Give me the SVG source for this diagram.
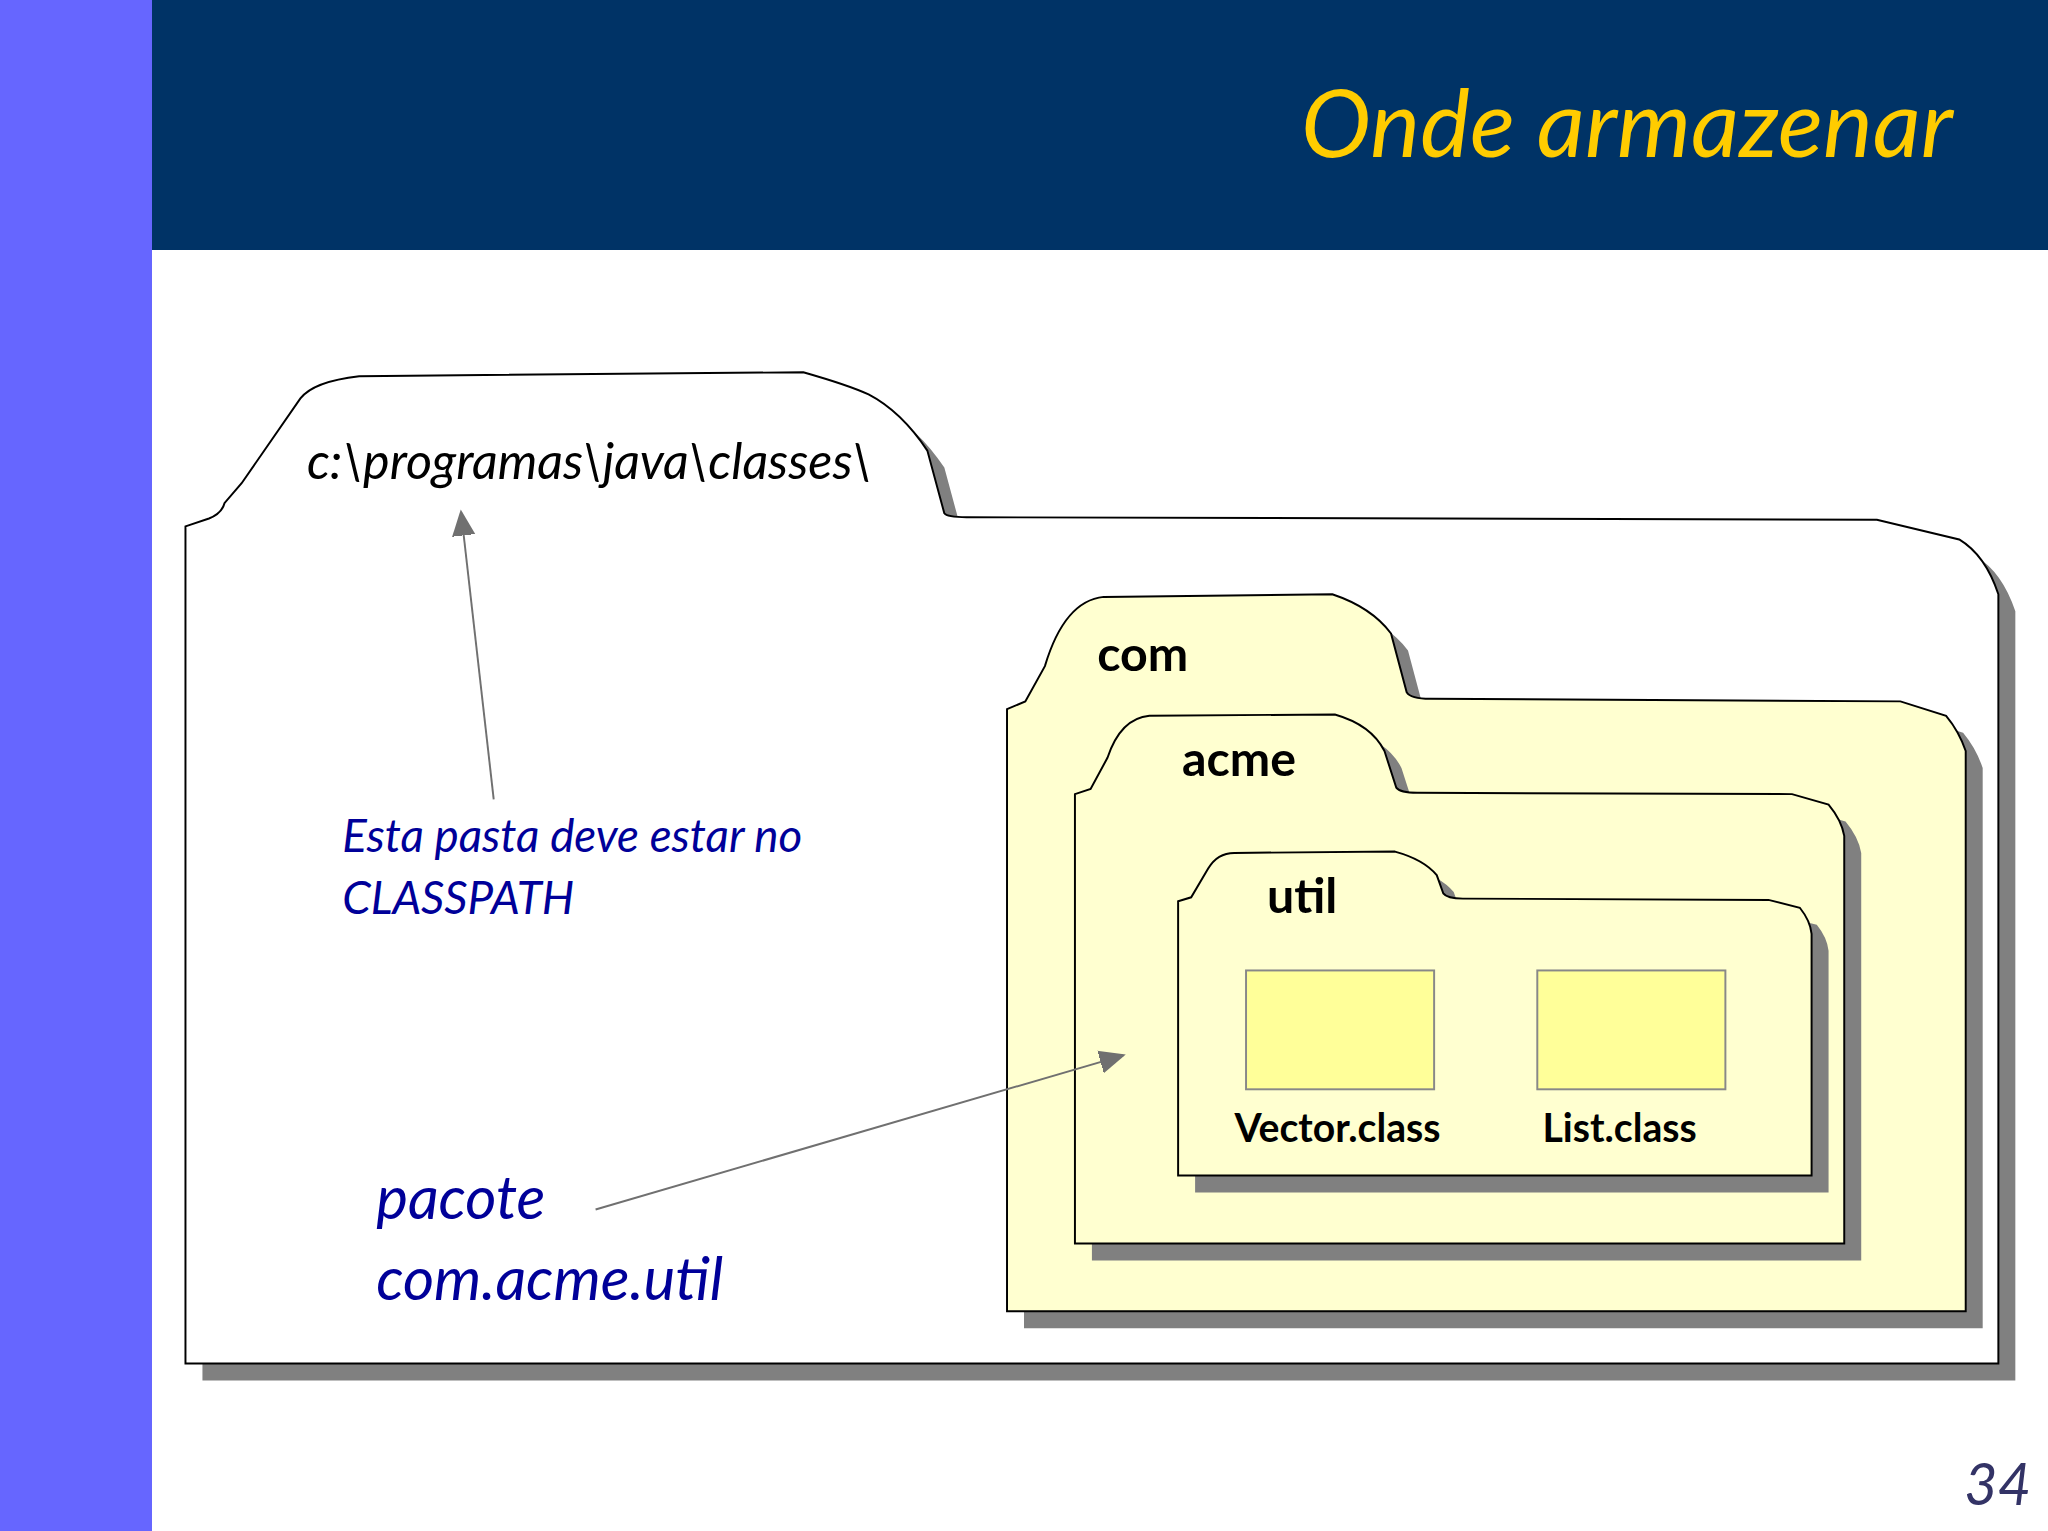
<svg xmlns="http://www.w3.org/2000/svg" width="2048" height="1531" viewBox="0 0 2048 1531">
<style>
.sh{fill:#808080}
.fo{stroke:#000;stroke-width:1.5}
.t{font-family:Lato,"Open Sans",sans-serif}
.b{font-weight:bold;fill:#000}
.bl{fill:#000099;font-style:italic}
.cn{stroke:#707070;stroke-width:1.5;fill:none}
</style>
<defs>
<marker id="ah" viewBox="0 0 10 10" refX="9" refY="5" markerWidth="20" markerHeight="20" orient="auto" markerUnits="userSpaceOnUse"><path d="M-8,-3 L10,5 L-8,13 Z" fill="#707070"/></marker>
</defs>
<rect width="2048" height="1531" fill="#fff"/>
<rect x="0" y="0" width="152" height="1531" fill="#6666FF"/>
<rect x="152" y="0" width="1896" height="250" fill="#003366"/>
<text x="1953" y="157" text-anchor="end" class="t" font-size="94" font-style="italic" fill="#FFCC00">Onde armazenar</text>
<g transform="scale(1.30612)">
<g id="classes">
<path class="sh" transform="translate(13,13)" d="M142,1044 L142,403 L160,397 Q170,393 172,385 L185,370 L230,305 Q240,292 275,288 L615,285 Q650,295 665,302 Q690,315 710,345 L723,393 Q725,396 740,396 L1437,398 L1500,413 Q1520,425 1530,455 L1530,1044 Z"/>
<path class="fo" fill="#fff" d="M142,1044 L142,403 L160,397 Q170,393 172,385 L185,370 L230,305 Q240,292 275,288 L615,285 Q650,295 665,302 Q690,315 710,345 L723,393 Q725,396 740,396 L1437,398 L1500,413 Q1520,425 1530,455 L1530,1044 Z"/>
<text x="235" y="367" class="t" font-size="38.5" font-style="italic" fill="#000">c:\programas\java\classes\</text>
</g>
<g id="com">
<path class="sh" transform="translate(13,13)" d="M771,1004 L771,543 L785,537 L800,510 Q815,460 845,457 L1020,455 Q1050,465 1065,485 L1077,530 Q1080,535 1095,535 L1455,537 L1490,548 Q1500,560 1505,575 L1505,1004 Z"/>
<path class="fo" fill="#FFFFD0" d="M771,1004 L771,543 L785,537 L800,510 Q815,460 845,457 L1020,455 Q1050,465 1065,485 L1077,530 Q1080,535 1095,535 L1455,537 L1490,548 Q1500,560 1505,575 L1505,1004 Z"/>
<text x="840" y="514" class="t b" font-size="37">com</text>
</g>
<g id="acme">
<path class="sh" transform="translate(13,13)" d="M823,952 L823,608 L835,604 L848,580 Q858,550 880,548 L1022,547 Q1050,555 1060,575 L1069,603 Q1072,607 1085,607 L1372,608 L1400,616 Q1410,628 1412,640 L1412,952 Z"/>
<path class="fo" fill="#FFFFD0" d="M823,952 L823,608 L835,604 L848,580 Q858,550 880,548 L1022,547 Q1050,555 1060,575 L1069,603 Q1072,607 1085,607 L1372,608 L1400,616 Q1410,628 1412,640 L1412,952 Z"/>
<text x="905" y="594" class="t b" font-size="37">acme</text>
</g>
<g id="util">
<path class="sh" transform="translate(13,13)" d="M902,900 L902,690 L912,687 L925,665 Q932,653 945,653 L1068,652 Q1090,658 1100,670 L1105,684 Q1108,688 1120,688 L1354,689 L1378,695 Q1386,705 1387,715 L1387,900 Z"/>
<path class="fo" fill="#FFFFD0" d="M902,900 L902,690 L912,687 L925,665 Q932,653 945,653 L1068,652 Q1090,658 1100,670 L1105,684 Q1108,688 1120,688 L1354,689 L1378,695 Q1386,705 1387,715 L1387,900 Z"/>
<text x="970" y="699" class="t b" font-size="37">util</text>
</g>
<g id="vector">
<rect x="954" y="743" width="144" height="91" fill="#FFFF99" stroke="#888" stroke-width="1.5"/>
<text x="1024" y="874" text-anchor="middle" class="t b" font-size="30">Vector.class</text>
</g>
<g id="list">
<rect x="1177" y="743" width="144" height="91" fill="#FFFF99" stroke="#888" stroke-width="1.5"/>
<text x="1240" y="874" text-anchor="middle" class="t b" font-size="30">List.class</text>
</g>
<g id="note1">
<text x="262" y="652" class="t bl" font-size="35">Esta pasta deve estar no</text>
<text x="262" y="700" class="t bl" font-size="35">CLASSPATH</text>
</g>
<g id="note2">
<text x="288" y="933" class="t bl" font-size="46">pacote</text>
<text x="288" y="995" class="t bl" font-size="46">com.acme.util</text>
</g>
<g id="connectors">
<line class="cn" x1="378" y1="612" x2="353" y2="392" marker-end="url(#ah)"/>
<line class="cn" x1="456" y1="926" x2="860" y2="808" marker-end="url(#ah)"/>
</g>
<text x="1555" y="1152" text-anchor="end" class="t" font-size="44" font-style="italic" fill="#333366">34</text>
</g>
</svg>
